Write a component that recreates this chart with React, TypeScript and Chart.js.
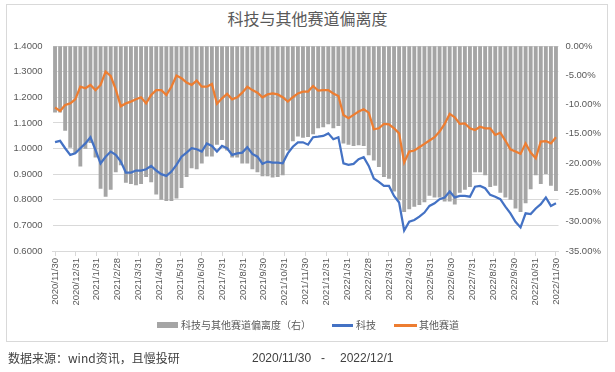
import React, { useEffect, useRef } from "react";
import { Chart, registerables } from "chart.js";

Chart.register(...registerables);

const monthLabels = [
  "2020/11/30", "2020/12/31", "2021/1/31", "2021/2/28", "2021/3/31", "2021/4/30",
  "2021/5/31", "2021/6/30", "2021/7/31", "2021/8/31", "2021/9/30", "2021/10/31",
  "2021/11/30", "2021/12/31", "2022/1/31", "2022/2/28", "2022/3/31", "2022/4/30",
  "2022/5/31", "2022/6/30", "2022/7/31", "2022/8/31", "2022/9/30", "2022/10/31",
  "2022/11/30",
];

// 科技 (left axis), weekly
const techValues = [
  1.025, 1.030, 1.001, 0.975, 0.981, 1.001, 1.020, 1.044, 0.994, 0.942,
  0.968, 0.988, 0.975, 0.949, 0.906, 0.906, 0.914, 0.914, 0.919, 0.932,
  0.914, 0.900, 0.893, 0.910, 0.936, 0.968, 0.984, 1.001, 0.997, 0.988,
  1.020, 1.010, 0.988, 1.010, 1.001, 0.975, 0.981, 0.984, 1.005, 0.979,
  0.968, 0.940, 0.949, 0.945, 0.945, 0.942, 0.981, 1.007, 1.024, 1.024,
  1.015, 1.044, 1.046, 1.049, 1.059, 1.036, 1.044, 0.942, 0.936, 0.940,
  0.958, 0.966, 0.932, 0.883, 0.870, 0.854, 0.854, 0.815, 0.789, 0.680,
  0.714, 0.721, 0.734, 0.750, 0.776, 0.786, 0.802, 0.809, 0.832, 0.809,
  0.815, 0.815, 0.812, 0.851, 0.854, 0.845, 0.819, 0.812, 0.802, 0.773,
  0.747, 0.714, 0.692, 0.747, 0.744, 0.766, 0.783, 0.809, 0.776, 0.786,
];

// 其他赛道 (left axis), weekly
const otherValues = [
  1.160, 1.146, 1.170, 1.176, 1.192, 1.241, 1.235, 1.248, 1.228, 1.248,
  1.300, 1.283, 1.231, 1.165, 1.176, 1.183, 1.192, 1.200, 1.176, 1.209,
  1.228, 1.228, 1.209, 1.241, 1.285, 1.274, 1.257, 1.248, 1.265, 1.241,
  1.241, 1.252, 1.175, 1.196, 1.213, 1.192, 1.200, 1.218, 1.241, 1.228,
  1.218, 1.200, 1.211, 1.215, 1.211, 1.200, 1.183, 1.200, 1.215, 1.222,
  1.222, 1.244, 1.226, 1.228, 1.228, 1.215, 1.205, 1.131, 1.118, 1.131,
  1.144, 1.153, 1.140, 1.075, 1.079, 1.096, 1.094, 1.079, 1.059, 0.945,
  0.988, 0.992, 1.005, 1.018, 1.031, 1.044, 1.066, 1.096, 1.135, 1.122,
  1.096, 1.098, 1.079, 1.072, 1.085, 1.079, 1.079, 1.053, 1.062, 1.031,
  0.997, 0.988, 0.979, 1.020, 0.984, 0.962, 1.027, 1.029, 1.020, 1.044,
];

// 科技与其他赛道偏离度 (right axis, %), weekly
const deviationValues = [
  -11.3, -11.3, -14.4, -17.3, -18.2, -20.5, -17.5, -16.5, -19.0, -24.3,
  -25.7, -24.5, -21.5, -20.3, -23.3, -23.5, -23.7, -23.5, -22.3, -23.2,
  -25.3, -26.2, -26.4, -26.4, -26.0, -24.2, -22.3, -20.8, -21.0, -20.0,
  -18.8, -18.8, -16.8, -16.0, -17.8, -19.0, -19.0, -20.0, -20.0, -21.0,
  -21.5, -22.2, -22.2, -22.4, -22.3, -22.0, -17.8, -16.2, -15.4, -15.6,
  -15.5, -15.0, -14.0, -13.8, -13.3, -14.0, -13.6, -16.6, -16.8, -17.0,
  -16.9, -17.0, -18.6, -19.5, -20.6, -22.3, -22.6, -24.8, -26.3, -28.3,
  -27.8, -27.4, -27.1, -26.6, -25.5, -25.8, -25.8, -26.5, -26.5, -27.0,
  -25.0, -24.5, -24.0, -21.5, -21.5, -22.0, -24.0, -23.8, -25.0, -25.8,
  -26.2, -27.7, -28.3, -26.8, -24.4, -22.0, -23.5, -21.8, -23.8, -24.7,
];

const FONT = "'Liberation Sans', 'Noto Sans CJK SC', sans-serif";
const CJK = "'Noto Sans CJK SC', 'Liberation Sans', sans-serif";
const TXT = "#595959";

export default function App() {
  const ref = useRef<HTMLCanvasElement>(null);

  useEffect(() => {
    const canvas = ref.current;
    if (!canvas) return;
    const n = techValues.length;
    const toPts = (arr: number[]) => arr.map((y, i) => ({ x: i, y }));
    const tickFont = { family: FONT, size: 9.5 };

    const chart = new Chart(canvas, {
      type: "bar",
      data: {
        datasets: [
          {
            type: "line",
            label: "科技",
            data: toPts(techValues),
            yAxisID: "y",
            borderColor: "#4472C4",
            backgroundColor: "#4472C4",
            borderWidth: 2.25,
            pointRadius: 0,
            tension: 0,
            order: 0,
          },
          {
            type: "line",
            label: "其他赛道",
            data: toPts(otherValues),
            yAxisID: "y",
            borderColor: "#ED7D31",
            backgroundColor: "#ED7D31",
            borderWidth: 2.25,
            pointRadius: 0,
            tension: 0,
            order: 1,
          },
          {
            type: "bar",
            label: "科技与其他赛道偏离度（右）",
            data: toPts(deviationValues),
            yAxisID: "y1",
            backgroundColor: "#A5A5A5",
            borderWidth: 0,
            grouped: false,
            barThickness: 3.2,
            maxBarThickness: 3.2,
            order: 2,
          },
        ],
      } as any,
      options: {
        responsive: false,
        animation: false,
        devicePixelRatio: 1,
        layout: { padding: { top: 46, left: 0, right: 0, bottom: 0 } },
        plugins: {
          legend: { display: false },
          title: { display: false },
          tooltip: { enabled: false },
        },
        scales: {
          x: {
            type: "linear",
            min: -0.5,
            max: n - 0.5,
            offset: false,
            afterBuildTicks: (scale: any) => {
              scale.ticks = monthLabels.map((_, m) => ({
                value: (m * (n - 1)) / (monthLabels.length - 1),
              }));
            },
            afterFit: (scale: any) => {
              scale.height = 121;
            },
            grid: {
              offset: false,
              drawOnChartArea: false,
              drawTicks: true,
              tickLength: 5,
              color: "#D9D9D9",
            },
            border: { display: true, color: "#D9D9D9" },
            ticks: {
              autoSkip: false,
              minRotation: 90,
              maxRotation: 90,
              padding: 2,
              color: TXT,
              font: tickFont,
              callback: (_v: any, i: number) => monthLabels[i],
            },
          },
          y: {
            type: "linear",
            position: "left",
            min: 0.6,
            max: 1.4,
            afterFit: (scale: any) => {
              scale.width = 52.5;
            },
            grid: { color: "#D9D9D9", drawTicks: false },
            border: { display: false },
            ticks: {
              stepSize: 0.1,
              padding: 10,
              color: TXT,
              font: tickFont,
              callback: (v: any) => Number(v).toFixed(4),
            },
          },
          y1: {
            type: "linear",
            position: "right",
            min: -35,
            max: 0,
            afterFit: (scale: any) => {
              scale.width = 56.5;
            },
            grid: { drawOnChartArea: false, drawTicks: false },
            border: { display: false },
            ticks: {
              stepSize: 5,
              padding: 7,
              color: TXT,
              font: tickFont,
              callback: (v: any) => Number(v).toFixed(2) + "%",
            },
          },
        },
      } as any,
    });
    return () => chart.destroy();
  }, []);

  const abs = (s: React.CSSProperties): React.CSSProperties => ({ position: "absolute", ...s });

  return (
    <div style={{ position: "fixed", left: 0, top: 0, width: 615, height: 372, background: "#fff", overflow: "hidden" }}>
      <div style={abs({ left: 6, top: 4, width: 602, height: 338, border: "1px solid #D9D9D9", boxSizing: "border-box" })} />
      <div style={abs({ left: 0, top: 8, width: 615, textAlign: "center", fontFamily: CJK, fontSize: 16, lineHeight: "20px", color: TXT })}>
        科技与其他赛道偏离度
      </div>
      <canvas ref={ref} width={615} height={372} style={abs({ left: 0, top: 0, width: 615, height: 372 })} />
      {/* legend */}
      <div style={abs({ left: 157, top: 322, width: 21, height: 6, background: "#A5A5A5" })} />
      <div style={abs({ left: 181, top: 318, fontFamily: CJK, fontSize: 10, lineHeight: "14px", color: TXT, whiteSpace: "nowrap" })}>
        科技与其他赛道偏离度（右）
      </div>
      <div style={abs({ left: 332, top: 324, width: 21, height: 2.5, background: "#4472C4" })} />
      <div style={abs({ left: 356, top: 318, fontFamily: CJK, fontSize: 10, lineHeight: "14px", color: TXT, whiteSpace: "nowrap" })}>
        科技
      </div>
      <div style={abs({ left: 394, top: 324, width: 23, height: 2.5, background: "#ED7D31" })} />
      <div style={abs({ left: 419, top: 318, fontFamily: CJK, fontSize: 10, lineHeight: "14px", color: TXT, whiteSpace: "nowrap" })}>
        其他赛道
      </div>
      {/* footer */}
      <div style={abs({ left: 8, top: 351, fontFamily: CJK, fontSize: 12, lineHeight: "14px", color: "#404040", whiteSpace: "nowrap" })}>
        数据来源：wind资讯，且慢投研
      </div>
      <div style={abs({ left: 252, top: 351, fontFamily: FONT, fontSize: 12, lineHeight: "14px", color: "#404040", whiteSpace: "nowrap" })}>
        2020/11/30
      </div>
      <div style={abs({ left: 321, top: 351, fontFamily: FONT, fontSize: 12, lineHeight: "14px", color: "#404040", whiteSpace: "nowrap" })}>
        -
      </div>
      <div style={abs({ left: 340, top: 351, fontFamily: FONT, fontSize: 12, lineHeight: "14px", color: "#404040", whiteSpace: "nowrap" })}>
        2022/12/1
      </div>
    </div>
  );
}
